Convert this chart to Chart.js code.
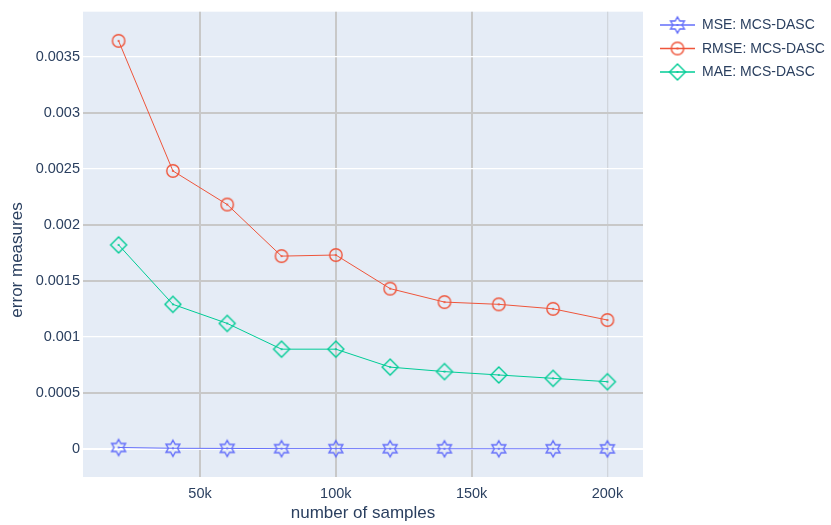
<!DOCTYPE html>
<html>
<head>
<meta charset="utf-8">
<script src="https://cdn.jsdelivr.net/npm/chart.js@4.4.1/dist/chart.umd.min.js"></script>
<style>
  html, body { margin: 0; padding: 0; background: #ffffff; }
  #wrap { width: 831px; height: 525px; }
</style>
</head>
<body>
<div id="wrap"><canvas id="chart" width="831" height="525"></canvas></div>
<script>
// Error measures of MCS-DASC against the number of samples
const samples    = [20000, 40000, 60000, 80000, 100000, 120000, 140000, 160000, 180000, 200000];
const mseValues  = [0.0000133, 0.0000061, 0.0000048, 0.0000030, 0.0000030, 0.0000020, 0.0000017, 0.0000017, 0.0000016, 0.0000013];
const rmseValues = [0.00364, 0.00248, 0.00218, 0.00172, 0.00173, 0.00143, 0.00131, 0.00129, 0.00125, 0.00115];
const maeValues  = [0.00182, 0.00129, 0.00112, 0.00089, 0.00089, 0.00073, 0.00069, 0.00066, 0.00063, 0.00060];
const seriesNames = ['MSE: MCS-DASC', 'RMSE: MCS-DASC', 'MAE: MCS-DASC'];

const xTickValues = [50000, 100000, 150000, 200000];
const xTickLabels = ['50k', '100k', '150k', '200k'];
const yTickValues = [0, 0.0005, 0.001, 0.0015, 0.002, 0.0025, 0.003, 0.0035];
const yTickLabels = ['0', '0.0005', '0.001', '0.0015', '0.002', '0.0025', '0.003', '0.0035'];

const FONT = '"Liberation Sans", Arial, Helvetica, sans-serif';
const TEXT = '#2a3f5f';
const COLORS = ['#636efa', '#EF553B', '#00cc96'];

// Open marker glyphs with a centre dot, drawn onto small canvases
function makeMarker(shape, color) {
  const s = 22, c = s / 2;
  const cv = document.createElement('canvas');
  cv.width = s; cv.height = s;
  const g = cv.getContext('2d');
  g.strokeStyle = color;
  g.fillStyle = color;
  g.lineWidth = 1.4;
  g.beginPath();
  if (shape === 'hexagram') {
    const ro = 8, ri = ro / Math.sqrt(3);
    for (let k = 0; k < 12; k++) {
      const a = -Math.PI / 2 + k * Math.PI / 6;
      const r = (k % 2 === 0) ? ro : ri;
      const px = c + r * Math.cos(a), py = c + r * Math.sin(a);
      if (k === 0) g.moveTo(px, py); else g.lineTo(px, py);
    }
    g.closePath();
  } else if (shape === 'circle') {
    g.arc(c, c, 6.2, 0, Math.PI * 2);
  } else {
    const d = 8;
    g.moveTo(c, c - d); g.lineTo(c + d, c); g.lineTo(c, c + d); g.lineTo(c - d, c); g.closePath();
  }
  g.stroke();
  g.beginPath();
  g.arc(c, c, 1.1, 0, Math.PI * 2);
  g.fill();
  return cv;
}
const markers = [
  makeMarker('hexagram', COLORS[0]),
  makeMarker('circle', COLORS[1]),
  makeMarker('diamond', COLORS[2])
];

// Plot area edges
const AREA = { left: 83, right: 643, top: 8, bottom: 477 };

const labelsPlugin = {
  id: 'labelsAndLegend',
  afterDraw(chart) {
    const ctx = chart.ctx;
    ctx.save();
    ctx.fillStyle = TEXT;
    ctx.font = '17px ' + FONT;
    ctx.textAlign = 'center';
    ctx.textBaseline = 'middle';
    ctx.fillText('number of samples', (AREA.left + AREA.right) / 2, 513);
    ctx.save();
    ctx.translate(17, 260);
    ctx.rotate(-Math.PI / 2);
    ctx.fillText('error measures', 0, 0);
    ctx.restore();

    // legend
    chart.data.datasets.forEach((ds, i) => {
      const y = 25 + i * 23.5;
      ctx.strokeStyle = ds.borderColor;
      ctx.lineWidth = 1.6;
      ctx.beginPath();
      ctx.moveTo(660, y); ctx.lineTo(695, y);
      ctx.stroke();
      const m = markers[i];
      ctx.drawImage(m, 677.5 - m.width / 2, y - m.height / 2);
      ctx.fillStyle = TEXT;
      ctx.font = '14px ' + FONT;
      ctx.textAlign = 'left';
      ctx.textBaseline = 'middle';
      ctx.fillText(ds.label, 702, y + 0.5);
    });
    ctx.restore();
  }
};

const bgPlugin = {
  id: 'plotBg',
  beforeDraw(chart) {
    const a = chart.chartArea, ctx = chart.ctx;
    ctx.save();
    ctx.fillStyle = '#E5ECF6';
    ctx.fillRect(a.left, a.top, a.right - a.left, a.bottom - a.top);
    ctx.restore();
  }
};

const greyY = [0.0005, 0.0015, 0.002, 0.003];
const greyX = [50000, 100000, 150000];

function series(values) {
  return samples.map((x, i) => ({ x: x, y: values[i] }));
}

new Chart(document.getElementById('chart'), {
  type: 'line',
  data: {
    datasets: [mseValues, rmseValues, maeValues].map((vals, i) => ({
      label: seriesNames[i],
      data: series(vals),
      borderColor: COLORS[i],
      backgroundColor: COLORS[i],
      borderWidth: 1,
      pointStyle: markers[i],
      pointRadius: 8,
      pointHoverRadius: 8,
      tension: 0,
      fill: false,
      order: 3 - i
    }))
  },
  options: {
    responsive: false,
    animation: false,
    devicePixelRatio: 1,
    layout: { padding: { left: 0, right: 831 - AREA.right, top: AREA.top, bottom: 0 } },
    plugins: {
      legend: { display: false },
      tooltip: { enabled: false }
    },
    scales: {
      x: {
        type: 'linear',
        min: 6900,
        max: 213100,
        afterFit(scale) { scale.height = 525 - AREA.bottom; },
        afterBuildTicks(scale) { scale.ticks = xTickValues.map(v => ({ value: v })); },
        border: { display: false },
        grid: {
          drawTicks: false,
          color: ctx => (ctx.tick && greyX.includes(ctx.tick.value)) ? '#c8c8c8' : '#d0d5dc',
          lineWidth: ctx => (ctx.tick && greyX.includes(ctx.tick.value)) ? 2 : 1.3
        },
        ticks: {
          padding: 8,
          color: TEXT,
          font: { family: FONT, size: 14.5 },
          maxRotation: 0,
          callback: (v) => { const k = xTickValues.indexOf(v); return k >= 0 ? xTickLabels[k] : ''; }
        }
      },
      y: {
        type: 'linear',
        min: -0.00025,
        max: 0.0039,
        afterFit(scale) { scale.width = AREA.left; },
        afterBuildTicks(scale) { scale.ticks = yTickValues.map(v => ({ value: v })); },
        border: { display: false },
        grid: {
          drawTicks: false,
          color: ctx => {
            if (!ctx.tick) return '#ffffff';
            return greyY.includes(ctx.tick.value) ? '#c8c8c8' : '#ffffff';
          },
          lineWidth: ctx => {
            if (!ctx.tick) return 1;
            if (ctx.tick.value === 0) return 2;
            return greyY.includes(ctx.tick.value) ? 2 : 1.3;
          }
        },
        ticks: {
          padding: 3,
          color: TEXT,
          font: { family: FONT, size: 14.5 },
          callback: (v) => { const k = yTickValues.indexOf(v); return k >= 0 ? yTickLabels[k] : ''; }
        }
      }
    }
  },
  plugins: [bgPlugin, labelsPlugin]
});
</script>
</body>
</html>
